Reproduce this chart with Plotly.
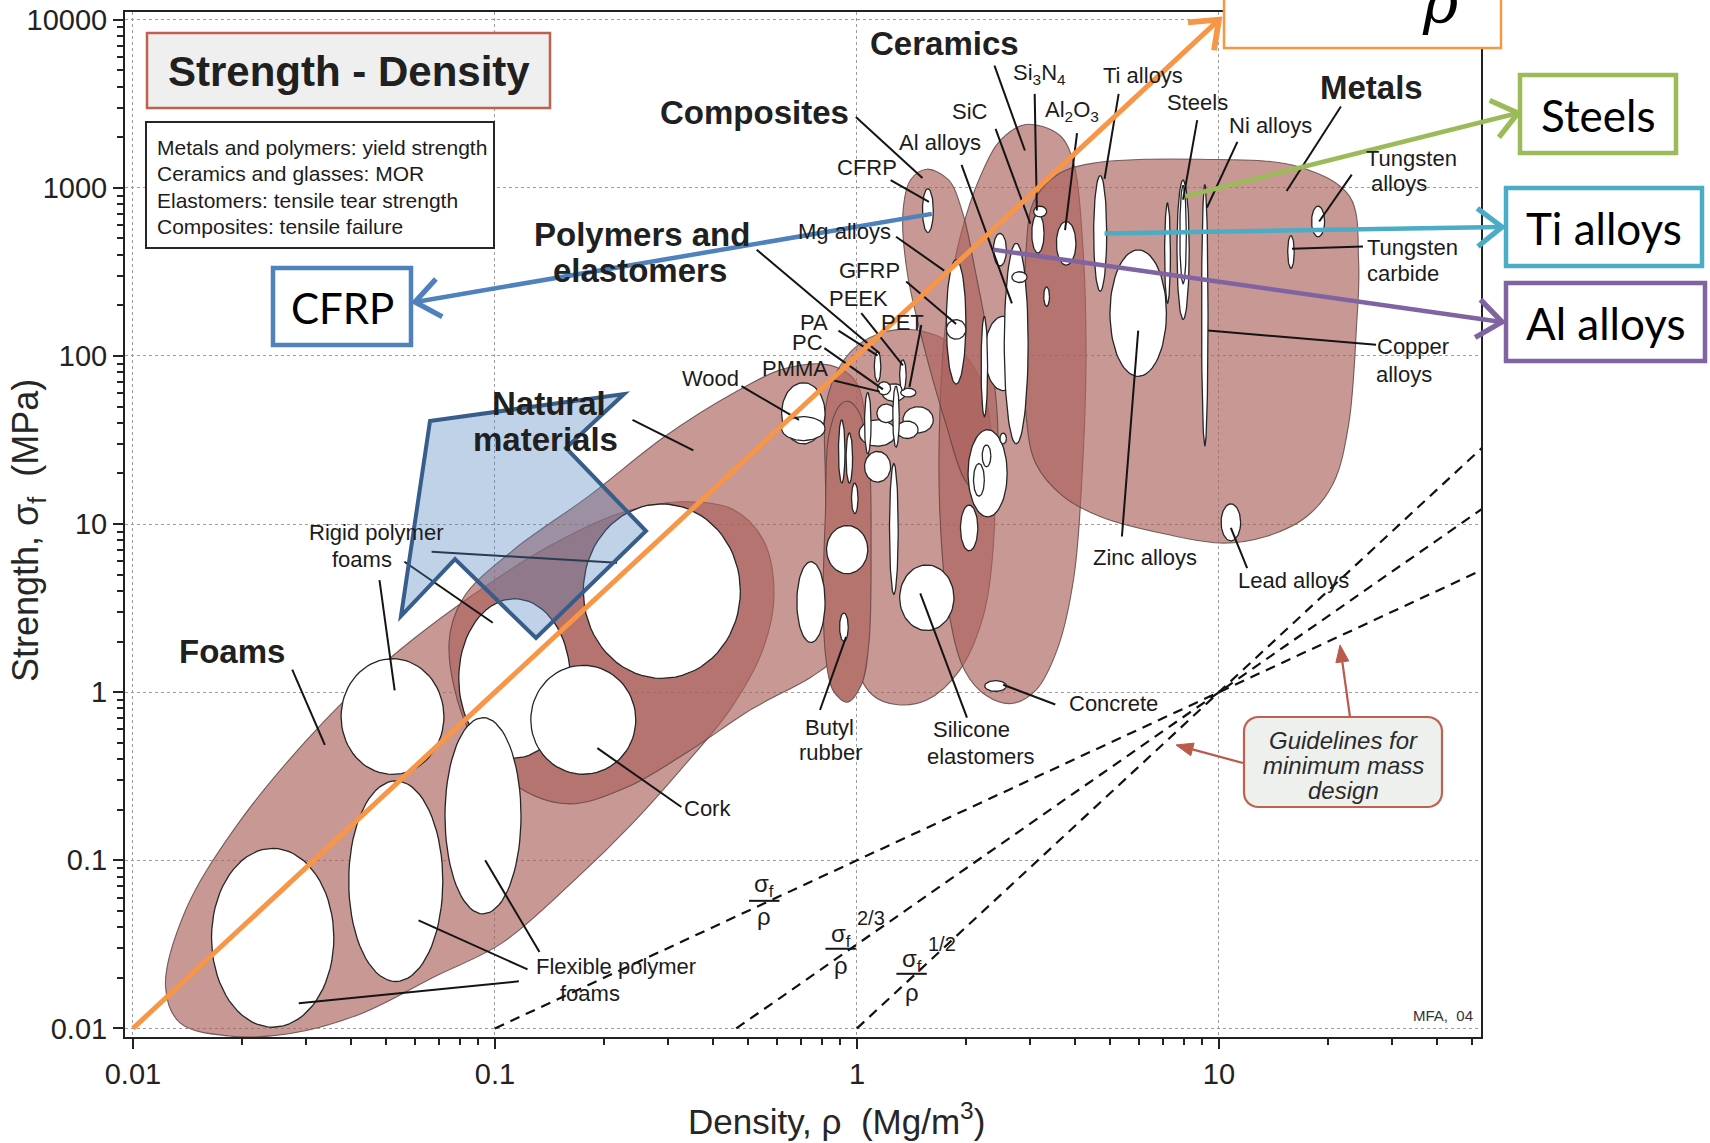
import numpy as np
import plotly.graph_objects as go

# ---------------------------------------------------------------- layout frame
W, H = 1710, 1143
L, R, T, B = 125, 1481, 12, 1037          # plot area in page pixels
XR = [-2.022, 1.724]                       # log10 density range
YR = [-2.051, 4.046]                       # log10 strength range


def to_px(lx, ly):
    """log10 data -> page pixels"""
    return (L + (lx - XR[0]) / (XR[1] - XR[0]) * (R - L),
            T + (YR[1] - ly) / (YR[1] - YR[0]) * (B - T))


def paper(px, py):
    """page pixels -> paper coordinates"""
    return (px - L) / (R - L), (B - py) / (B - T)


# ---------------------------------------------------------------- data
# Family envelopes, outline points as (log10 density, log10 strength)
env_foams = [(-1.910, -1.753), (-1.870, -1.967), (-1.735, -2.045), (-1.569, -2.032), (-1.373, -1.915),
             (-1.163, -1.688), (-0.982, -1.494), (-0.783, -1.124), (-0.620, -0.780), (-0.485, -0.456),
             (-0.349, -0.099), (-0.259, 0.258), (-0.229, 0.582), (-0.259, 0.906), (-0.343, 1.088),
             (-0.485, 1.133), (-0.651, 1.068), (-0.846, 0.874), (-1.072, 0.562), (-1.313, 0.160),
             (-1.524, -0.294), (-1.720, -0.813), (-1.855, -1.299)]
env_natural = [(-1.127, 0.290), (-1.087, 0.562), (-0.952, 0.841), (-0.741, 1.166), (-0.530, 1.522),
               (-0.349, 1.769), (-0.199, 1.925), (-0.072, 1.944), (-0.003, 1.847), (0.027, 1.522),
               (0.033, 1.003), (0.012, 0.485), (-0.048, 0.225), (-0.123, 0.095), (-0.289, -0.099),
               (-0.470, -0.359), (-0.636, -0.566), (-0.801, -0.664), (-0.952, -0.540), (-1.072, -0.229)]
env_polymers = [(-0.078, 1.782), (-0.003, 2.054), (0.117, 2.158), (0.247, 2.093), (0.337, 1.879),
                (0.377, 1.393), (0.377, 0.874), (0.349, 0.452), (0.283, 0.128), (0.193, -0.047),
                (0.108, -0.073), (0.042, -0.015), (-0.018, 0.225), (-0.072, 0.744), (-0.087, 1.263)]
env_elastomers = [(-0.087, 1.068), (-0.078, 1.522), (-0.048, 1.704), (-0.024, 1.730), (0.006, 1.665),
                  (0.033, 1.393), (0.039, 0.874), (0.033, 0.290), (0.012, 0.043), (-0.027, -0.060),
                  (-0.066, 0.011), (-0.087, 0.225), (-0.093, 0.614)]
env_ceramics = [(0.467, 3.377), (0.560, 3.313), (0.599, 3.144), (0.623, 2.690), (0.633, 2.041),
                (0.623, 1.328), (0.599, 0.679), (0.554, 0.258), (0.494, 0.011), (0.428, -0.067),
                (0.358, -0.021), (0.298, 0.128), (0.253, 0.485), (0.229, 1.068), (0.229, 1.652),
                (0.247, 2.236), (0.283, 2.690), (0.343, 3.079), (0.398, 3.287)]
env_composites = [(0.193, 3.111), (0.253, 3.047), (0.292, 2.852), (0.328, 2.495), (0.367, 2.041),
                  (0.389, 1.587), (0.380, 1.263), (0.343, 1.166), (0.298, 1.263), (0.247, 1.587),
                  (0.187, 2.041), (0.139, 2.495), (0.127, 2.852), (0.148, 3.047)]
env_metals = [(0.467, 2.625), (0.488, 2.917), (0.554, 3.079), (0.645, 3.144), (0.946, 3.170),
              (1.223, 3.124), (1.361, 2.949), (1.386, 2.560), (1.380, 2.171), (1.358, 1.587),
              (1.316, 1.243), (1.241, 1.042), (1.130, 0.926), (1.012, 0.887), (0.855, 0.939),
              (0.675, 1.042), (0.569, 1.166), (0.494, 1.360), (0.467, 1.652), (0.464, 2.171)]

# Material bubbles: (log10 density centre, log10 strength centre, half-span density, half-span strength)
foam_bubbles = [(-1.614, -1.461, 0.169, 0.532), (-1.274, -1.124, 0.130, 0.597),
                (-0.946, 0.082, 0.154, 0.474), (-1.033, -0.735, 0.105, 0.584),
                (-1.283, -0.145, 0.142, 0.344), (-0.756, -0.164, 0.145, 0.324),
                (-0.539, 0.601, 0.217, 0.519)]
natural_bubbles = [(-0.148, 1.659, 0.060, 0.182), (-0.148, 1.568, 0.060, 0.071),
                   (-0.127, 0.536, 0.039, 0.240)]
elastomer_bubbles = [(-0.036, 0.387, 0.012, 0.084), (-0.027, 0.848, 0.057, 0.143),
                     (-0.042, 1.432, 0.009, 0.188), (-0.021, 1.393, 0.009, 0.149),
                     (-0.006, 1.153, 0.009, 0.091)]
polymer_bubbles = [(0.102, 0.971, 0.012, 0.389), (0.057, 1.542, 0.051, 0.078), (0.057, 1.341, 0.036, 0.091),
                   (0.169, 1.620, 0.042, 0.078), (0.139, 1.561, 0.030, 0.052), (0.081, 1.659, 0.026, 0.055),
                   (0.102, 1.782, 0.033, 0.052), (0.075, 1.808, 0.018, 0.039), (0.142, 1.782, 0.021, 0.026),
                   (0.030, 1.600, 0.009, 0.182), (0.108, 1.639, 0.009, 0.182), (0.057, 1.937, 0.009, 0.091),
                   (0.127, 1.886, 0.009, 0.091), (0.193, 0.562, 0.075, 0.195)]
ceramic_bubbles = [(0.196, 2.865, 0.015, 0.130), (0.274, 2.203, 0.027, 0.370), (0.274, 2.158, 0.027, 0.058),
                   (0.404, 2.015, 0.051, 0.221), (0.440, 2.074, 0.033, 0.597), (0.352, 1.937, 0.009, 0.298),
                   (0.395, 2.632, 0.018, 0.097), (0.500, 2.729, 0.017, 0.117), (0.506, 2.859, 0.018, 0.032),
                   (0.578, 2.670, 0.027, 0.130), (0.449, 2.469, 0.021, 0.032), (0.524, 2.353, 0.008, 0.058),
                   (0.383, 0.037, 0.030, 0.032), (0.361, 1.302, 0.054, 0.259), (0.337, 1.263, 0.015, 0.097),
                   (0.358, 1.406, 0.012, 0.065), (0.310, 0.977, 0.024, 0.136), (0.404, 1.509, 0.009, 0.032)]
metal_bubbles = [(0.672, 2.729, 0.018, 0.344), (0.777, 2.255, 0.078, 0.376), (0.901, 2.632, 0.017, 0.415),
                 (0.901, 2.722, 0.009, 0.292), (0.858, 2.612, 0.008, 0.298), (0.961, 2.242, 0.009, 0.778),
                 (1.274, 2.800, 0.018, 0.091), (1.199, 2.619, 0.009, 0.097), (1.033, 1.010, 0.027, 0.110)]

# Minimum-mass guide lines: index exponent n in sigma^n / rho, all through (10 Mg/m3, 1 MPa)
guide_exponents = [1.0, 2 / 3, 1 / 2]
guide_anchor = (10.0, 1.0)

# Family labels (bold) and material labels: text, log10 density, log10 strength
family_labels = [("Ceramics", 0.241, 3.857), ("Composites", -0.283, 3.449), ("Metals", 1.422, 3.598),
                 ("Polymers and", -0.593, 2.722), ("elastomers", -0.599, 2.508),
                 ("Natural", -0.852, 1.717), ("materials", -0.861, 1.503), ("Foams", -1.726, 0.245)]
material_labels = [("Si<sub>3</sub>N<sub>4</sub>", 0.503, 3.676), ("Ti alloys", 0.789, 3.669),
                   ("SiC", 0.313, 3.455), ("Al<sub>2</sub>O<sub>3</sub>", 0.593, 3.455),
                   ("Steels", 0.940, 3.507), ("Ni alloys", 1.142, 3.371), ("Al alloys", 0.229, 3.267),
                   ("CFRP", 0.027, 3.124), ("Mg alloys", -0.033, 2.742), ("GFRP", 0.036, 2.508),
                   ("PEEK", 0.003, 2.340), ("PA", -0.120, 2.200), ("PET", 0.127, 2.197),
                   ("PC", -0.136, 2.082), ("PMMA", -0.172, 1.925), ("Wood", -0.404, 1.866),
                   ("Tungsten", 1.533, 3.176), ("alloys", 1.497, 3.027),
                   ("Tungsten", 1.536, 2.645), ("carbide", 1.509, 2.489),
                   ("Copper", 1.536, 2.054), ("alloys", 1.512, 1.892),
                   ("Zinc alloys", 0.795, 0.802), ("Lead alloys", 1.205, 0.666),
                   ("Concrete", 0.708, -0.067), ("Butyl", -0.075, -0.210), ("rubber", -0.072, -0.359),
                   ("Silicone", 0.316, -0.222), ("elastomers", 0.343, -0.385), ("Cork", -0.413, -0.690),
                   ("Rigid polymer", -1.328, 0.952), ("foams", -1.367, 0.789),
                   ("Flexible polymer", -0.666, -1.630), ("foams", -0.738, -1.792)]

# Leader lines from labels to their bubbles (log10 density, log10 strength)
leaders = [((0.380, 3.727), (0.464, 3.222)), ((-0.003, 3.422), (0.181, 3.059)),
           ((1.337, 3.484), (1.187, 2.981)), ((-0.277, 2.632), (0.063, 2.015)),
           ((-0.620, 1.620), (-0.452, 1.438)), ((-1.560, 0.134), (-1.470, -0.313)),
           ((0.491, 3.559), (0.497, 2.865)), ((0.723, 3.559), (0.684, 3.053)),
           ((0.383, 3.351), (0.479, 2.787)), ((0.608, 3.325), (0.575, 2.748)),
           ((0.940, 3.403), (0.901, 2.930)), ((1.051, 3.273), (0.967, 2.883)),
           ((0.289, 3.137), (0.428, 2.313)), ((0.093, 3.046), (0.199, 2.917)),
           ((0.108, 2.709), (0.241, 2.508)), ((0.136, 2.443), (0.274, 2.190)),
           ((0.012, 2.255), (0.127, 1.944)), ((-0.051, 2.151), (0.057, 2.002)),
           ((-0.090, 2.047), (0.072, 1.801)), ((-0.075, 1.860), (0.063, 1.788)),
           ((0.178, 2.184), (0.145, 1.814)), ((-0.319, 1.821), (-0.160, 1.620)),
           ((1.367, 3.079), (1.277, 2.800)), ((1.398, 2.651), (1.202, 2.638)),
           ((1.434, 2.067), (0.970, 2.151)), ((0.732, 0.926), (0.777, 2.151)),
           ((1.078, 0.738), (1.033, 0.977)), ((0.548, -0.073), (0.404, 0.044)),
           ((-0.102, -0.106), (-0.030, 0.329)), ((0.304, -0.151), (0.175, 0.588)),
           ((-0.485, -0.683), (-0.717, -0.333)), ((-1.250, 0.776), (-1.006, 0.413)),
           ((-1.175, 0.835), (-0.663, 0.770)), ((-1.319, 0.666), (-1.277, 0.011)),
           ((-0.877, -1.546), (-1.027, -1.000)), ((-0.910, -1.649), (-1.211, -1.357)),
           ((-0.934, -1.720), (-1.542, -1.850))]

# Highlighted materials (density Mg/m3, strength MPa)
highlight = {"CFRP": (1.61, 700.0), "Steels": (8.07, 890.0), "Ti alloys": (4.83, 536.0),
             "Al alloys": (2.38, 429.0)}
orange_from, orange_to = (0.01, 0.01), (10.0, 10000.0)

# ---------------------------------------------------------------- styles
FONT = "Liberation Sans, Arial, Helvetica, sans-serif"
INK = "#1c1c1c"
ENV_FILL = "rgba(170,97,90,0.65)"
ENV_LINE = "rgba(90,66,64,0.8)"
ELAST_FILL = "rgb(181,116,110)"

fig = go.Figure()


def add_env(pts, fill):
    xs = [10 ** a for a, b in pts] + [10 ** pts[0][0]]
    ys = [10 ** b for a, b in pts] + [10 ** pts[0][1]]
    fig.add_trace(go.Scatter(x=xs, y=ys, mode="lines", fill="toself", fillcolor=fill,
                             line=dict(color=ENV_LINE, width=1.1, shape="spline", smoothing=1.0),
                             hoverinfo="skip"))


def add_bubble(lx, ly, hx, hy):
    t = np.linspace(0, 2 * np.pi, 73)
    fig.add_trace(go.Scatter(x=10 ** (lx + hx * np.cos(t)), y=10 ** (ly + hy * np.sin(t)),
                             mode="lines", fill="toself", fillcolor="white",
                             line=dict(color="#262626", width=1.3), hoverinfo="skip"))


# guide lines
for n in guide_exponents:
    k = 1.0 / n
    lr0, ls0 = np.log10(guide_anchor[0]), np.log10(guide_anchor[1])
    lr = np.array([lr0 + (-2.0 - ls0) / k, XR[1] + 0.1])
    fig.add_trace(go.Scatter(x=10 ** lr, y=10 ** (ls0 + k * (lr - lr0)), mode="lines",
                             line=dict(color="#111", width=2.2, dash="10px,7px"), hoverinfo="skip"))

for env in (env_foams, env_natural, env_polymers, env_ceramics, env_composites, env_metals):
    add_env(env, ENV_FILL)
add_env(env_elastomers, ELAST_FILL)

for group in (foam_bubbles, natural_bubbles, elastomer_bubbles, polymer_bubbles, ceramic_bubbles, metal_bubbles):
    for b in group:
        add_bubble(*b)

# leader lines
lx_, ly_ = [], []
for (a, b), (c, d) in leaders:
    lx_ += [10 ** a, 10 ** c, None]
    ly_ += [10 ** b, 10 ** d, None]
fig.add_trace(go.Scatter(x=lx_, y=ly_, mode="lines", line=dict(color="#141414", width=2), hoverinfo="skip"))

# guide-line index labels (fractions)
fractions = [(-0.256, -1.150, -1.241, -1.332, None),
             (-0.045, -1.448, -1.526, -1.624, ("2/3", 0.040, -1.345)),
             (0.151, -1.598, -1.675, -1.786, ("1/2", 0.236, -1.500))]
bx, by = [], []
for cx, ys, yb, yr, expo in fractions:
    bx += [10 ** (cx - 0.042), 10 ** (cx + 0.042), None]
    by += [10 ** yb, 10 ** yb, None]
    fig.add_annotation(x=cx, y=ys, text="σ<sub>f</sub>", showarrow=False, font=dict(family=FONT, size=24, color=INK))
    fig.add_annotation(x=cx, y=yr, text="ρ", showarrow=False, font=dict(family=FONT, size=24, color=INK))
    if expo:
        fig.add_annotation(x=expo[1], y=expo[2], text=expo[0], showarrow=False,
                           font=dict(family=FONT, size=20, color=INK))
fig.add_trace(go.Scatter(x=bx, y=by, mode="lines", line=dict(color="#141414", width=2), hoverinfo="skip"))

for txt, x, y in family_labels:
    fig.add_annotation(x=x, y=y, text=f"<b>{txt}</b>", showarrow=False, font=dict(family=FONT, size=33, color="#202020"))
for txt, x, y in material_labels:
    fig.add_annotation(x=x, y=y, text=txt, showarrow=False, font=dict(family=FONT, size=22, color=INK))

# ---------------------------------------------------------------- decorations
shapes = []


def rect(x0, y0, x1, y1, line, width, fill):
    a, b = paper(x0, y1)
    c, d = paper(x1, y0)
    shapes.append(dict(type="rect", xref="paper", yref="paper", x0=a, y0=b, x1=c, y1=d,
                       line=dict(color=line, width=width), fillcolor=fill, layer="above"))


def path_px(pts, line, width, fill, closed=True):
    p = " L ".join("%.5f,%.5f" % paper(*q) for q in pts)
    shapes.append(dict(type="path", xref="paper", yref="paper", path="M " + p + (" Z" if closed else ""),
                       line=dict(color=line, width=width), fillcolor=fill, layer="above"))


def text_px(px, py, txt, size, family=FONT, color=INK, xanchor="center", style="normal", textangle=0):
    x, y = paper(px, py)
    fig.add_annotation(x=x, y=y, xref="paper", yref="paper", text=txt, showarrow=False,
                       xanchor=xanchor, yanchor="middle", textangle=textangle,
                       font=dict(family=family, size=size, color=color, style=style))


def chevron_arrow(tail, head, color, width, arm=31, ang=38):
    tx, ty = tail
    hx, hy = head
    d = np.hypot(hx - tx, hy - ty)
    ux, uy = (hx - tx) / d, (hy - ty) / d
    path_px([tail, (hx - ux * 2, hy - uy * 2)], color, width, "rgba(0,0,0,0)", closed=False)
    arms = []
    for s in (1, -1):
        c, sn = np.cos(np.radians(s * ang)), np.sin(np.radians(s * ang))
        arms.append((hx + arm * (-ux * c + uy * sn), hy + arm * (-uy * c - ux * sn)))
    path_px([arms[0], head, arms[1]], color, width + 0.8, "rgba(0,0,0,0)", closed=False)


def solid_arrow(tail, head, color, width, size=17, half=6.5):
    tx, ty = tail
    hx, hy = head
    d = np.hypot(hx - tx, hy - ty)
    ux, uy = (hx - tx) / d, (hy - ty) / d
    bx_, by_ = hx - ux * size, hy - uy * size
    path_px([tail, (bx_, by_)], color, width, "rgba(0,0,0,0)", closed=False)
    path_px([head, (bx_ - uy * half, by_ + ux * half), (bx_ + uy * half, by_ - ux * half)], color, 1, color)


# title and definition boxes
rect(147, 33, 550, 108, "#c0604f", 2.5, "#eeefee")
text_px(349, 71, "<b>Strength - Density</b>", 42, color="#202020")
rect(146, 122, 494, 248, "#262626", 2, "white")
for i, line in enumerate(["Metals and polymers: yield strength", "Ceramics and glasses: MOR",
                          "Elastomers: tensile tear strength", "Composites: tensile failure"]):
    text_px(155, 147 + 26.5 * i, line, 21, xanchor="left")

# guideline call-out box (rounded)
gx0, gy0, gx1, gy1, rr = 1244, 717, 1442, 807, 14
rounded = []
for cx, cy, a0 in [(gx1 - rr, gy0 + rr, -90), (gx1 - rr, gy1 - rr, 0), (gx0 + rr, gy1 - rr, 90), (gx0 + rr, gy0 + rr, 180)]:
    for a in np.linspace(a0, a0 + 90, 7):
        rounded.append((cx + rr * np.cos(np.radians(a)), cy + rr * np.sin(np.radians(a))))
path_px(rounded, "#c0604f", 2.2, "#eef0ee")
for i, line in enumerate(["Guidelines for", "minimum mass", "design"]):
    text_px(1343, 740 + 25 * i, line, 24, style="italic", color="#2a2a2a")
solid_arrow((1350, 717), (1340, 645), "#b95a4a", 2.2)
solid_arrow((1243, 763), (1176, 745), "#b95a4a", 2.2)
text_px(1475, 1015, "MFA,  04", 15, xanchor="right", color="#333")

# highlight boxes
rect(1224, -20, 1501, 48, "#f79646", 2.5, "white")
text_px(1440, 2, "ρ", 60, family="DejaVu Serif, serif", color="black", style="italic")
box_specs = {"Steels": ((1520, 75, 1676, 153), "#9bbb59", (1518, 113)),
             "Ti alloys": ((1506, 188, 1702, 266), "#4bacc6", (1502, 227)),
             "Al alloys": ((1506, 283, 1705, 361), "#8064a2", (1502, 322)),
             "CFRP": ((273, 268, 411, 345), "#4f81bd", (415, 302))}
for name, (bx4, col, head) in box_specs.items():
    rect(*bx4, col, 4.5, "white")
    text_px((bx4[0] + bx4[2]) / 2, (bx4[1] + bx4[3]) / 2 + 1, name, 44 if name != "CFRP" else 42,
            family="Lato, Open Sans, sans-serif", color="black")

# blue call-out arrow polygon
path_px([(430, 421), (624, 394), (566, 448), (646, 531), (536, 638), (455, 559), (401, 616)],
        "#385d8a", 4, "rgba(79,129,189,0.36)")

# orange index line and coloured pointers
chevron_arrow(to_px(*np.log10(orange_from)), to_px(*np.log10(orange_to)), "#f79646", 5)
for name, (bx4, col, head) in box_specs.items():
    rho, sig = highlight[name]
    chevron_arrow(to_px(np.log10(rho), np.log10(sig)), head, col, 4.5)

# axis titles
text_px(836, 1119, "Density, ρ\u00a0 (Mg/m<sup>3</sup>)", 35, color="#262626")
text_px(28, 531, "Strength, σ<sub>f</sub>\u00a0 (MPa)", 36, color="#262626", textangle=-90)

# ---------------------------------------------------------------- axes
minor_x = [m * 10.0 ** e for e in range(-2, 2) for m in range(2, 10) if m * 10.0 ** e < 53]
minor_y = [m * 10.0 ** e for e in range(-2, 4) for m in range(2, 10)]
axis_common = dict(type="log", ticks="outside", ticklen=10, tickwidth=2, tickcolor="#222",
                   showline=True, linewidth=2, linecolor="#222", mirror=True, zeroline=False,
                   showgrid=True, gridcolor="#9c9c9c", griddash="dot", gridwidth=1.2,
                   tickfont=dict(family=FONT, size=29, color="#222"))
fig.update_xaxes(range=XR, tickvals=[0.01, 0.1, 1, 10], ticktext=["0.01", "0.1", "1", "10"],
                 minor=dict(tickmode="array", tickvals=minor_x, ticks="outside", ticklen=6, tickwidth=1.5,
                            tickcolor="#222", showgrid=False), **axis_common)
fig.update_yaxes(range=YR, tickvals=[0.01, 0.1, 1, 10, 100, 1000, 10000],
                 ticktext=["0.01", "0.1", "1", "10", "100", "1000", "10000"],
                 minor=dict(tickmode="array", tickvals=minor_y, ticks="outside", ticklen=6, tickwidth=1.5,
                            tickcolor="#222", showgrid=False), **axis_common)

fig.update_layout(width=W, height=H, margin=dict(l=L, r=W - R, t=T, b=H - B, autoexpand=False),
                  paper_bgcolor="white", plot_bgcolor="white", showlegend=False, hovermode=False,
                  shapes=shapes)

fig.write_html("out.html", include_plotlyjs=True, config={"displayModeBar": False})
